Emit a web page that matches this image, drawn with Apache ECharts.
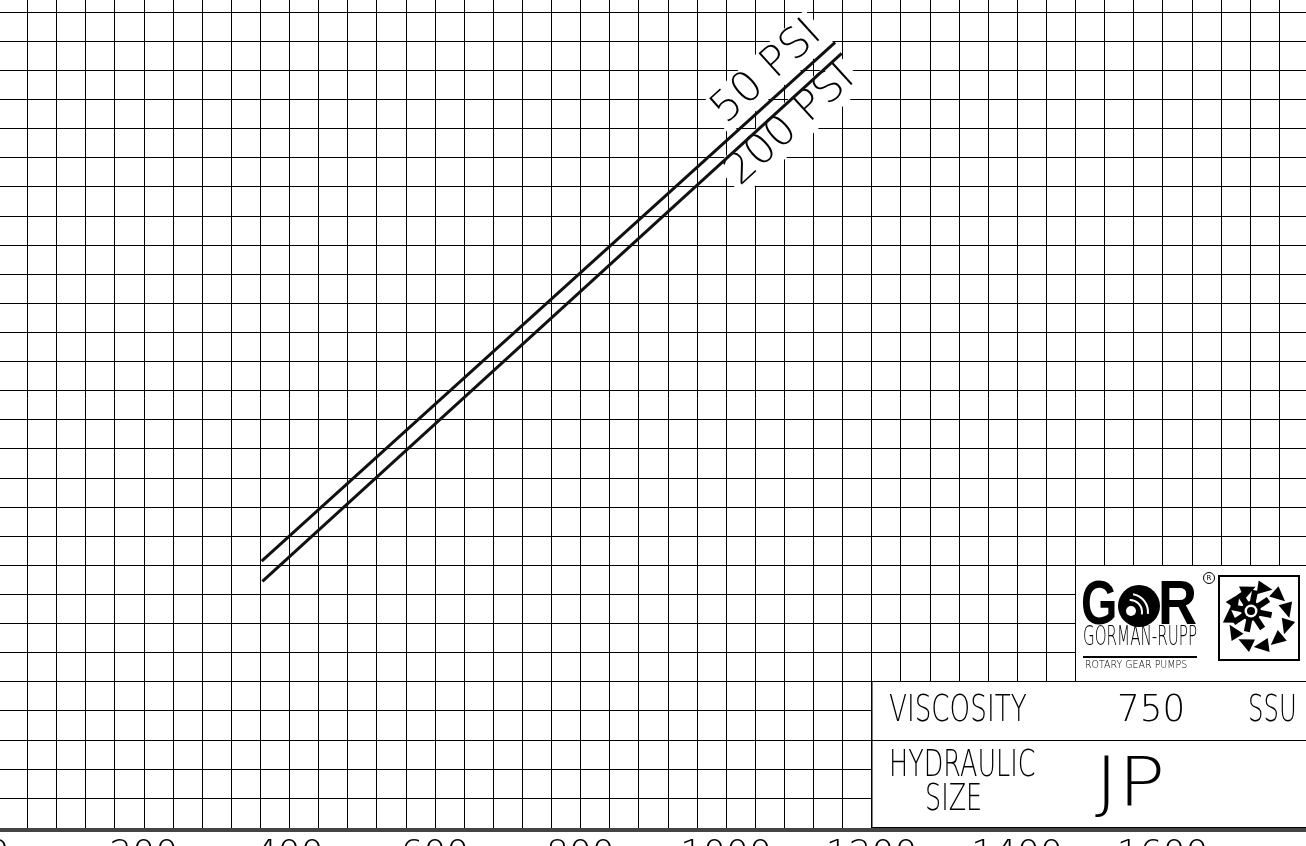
<!DOCTYPE html>
<html>
<head>
<meta charset="utf-8">
<title>JP 750 SSU</title>
<script src="https://cdn.jsdelivr.net/npm/echarts@6/dist/echarts.min.js"></script>
<style>
html, body { margin: 0; padding: 0; background: #fff; }
#main { width: 1306px; height: 846px; }
</style>
</head>
<body>
<div id="main"></div>
<script>
// speed (RPM) along the bottom, flow on the left axis (cropped off)
var rpmLabels = [0, 200, 400, 600, 800, 1000, 1200, 1400, 1600];
var rpm50 = [362, 1150];
var flow50 = [40.7, 129.8];
var rpm200 = [363, 1159];
var flow200 = [37.2, 127.9];
var curveNames = ['50 PSI', '200 PSI'];
var viscosity = '750';
var viscUnit = 'SSU';
var hydSize = 'JP';

var cad = '"DejaVu Sans", "Liberation Sans", sans-serif';
var ink = '#000';

function pairs(xs, ys) {
	return xs.map(function(x, i) { return [x, ys[i]]; });
}

var chart = echarts.init(document.getElementById('main'));
var option = {
	animation: false,
	grid: [{
		// plotting area
		left: -1.8,
		right: -2.2,
		top: -17.08,
		bottom: 48,
		containLabel: false,
		outerBoundsMode: 'none'
	}, {
		// strip under the last grid row, carries the rpm scale
		left: -1.8,
		right: -2.2,
		top: 798,
		bottom: 16,
		containLabel: false,
		outerBoundsMode: 'none'
	}],
	xAxis: [{
		gridIndex: 0,
		type: 'value',
		min: 0,
		max: 1800,
		interval: 40,
		axisLine: { show: false },
		axisTick: { show: false },
		axisLabel: { show: false },
		splitLine: { show: true, lineStyle: { color: ink, width: 1 } }
	}, {
		gridIndex: 1,
		type: 'value',
		min: 0,
		max: 1800,
		interval: 40,
		axisLine: { lineStyle: { color: '#444', width: 4 } },
		axisTick: { show: false },
		splitLine: { show: true, lineStyle: { color: ink, width: 1 } },
		axisLabel: {
			margin: 8,
			showMaxLabel: false,
			hideOverlap: false,
			color: ink,
			fontFamily: cad,
			fontWeight: 200,
			fontSize: 36,
			formatter: function(v) {
				return rpmLabels.indexOf(v) >= 0 ? String(v) : '';
			}
		}
	}],
	yAxis: [{
		gridIndex: 0,
		type: 'value',
		min: 0,
		max: 140,
		interval: 5,
		axisLine: { show: false },
		axisTick: { show: false },
		axisLabel: { show: false },
		splitLine: { show: true, lineStyle: { color: ink, width: 1 } }
	}, {
		gridIndex: 1,
		type: 'value',
		min: 0,
		max: 1,
		show: false,
		splitLine: { show: false }
	}],
	series: [{
		name: curveNames[0],
		type: 'line',
		symbol: 'none',
		silent: true,
		lineStyle: { color: '#111', width: 3 },
		data: pairs(rpm50, flow50)
	}, {
		name: curveNames[1],
		type: 'line',
		symbol: 'none',
		silent: true,
		lineStyle: { color: '#111', width: 3 },
		data: pairs(rpm200, flow200)
	}]
};
chart.setOption(option);

/**
 * curve labels, table and logo
 * **/
function curveLabel(xs, ys, text, dx, dy) {
	var a = chart.convertToPixel({ gridIndex: 0 }, [xs[0], ys[0]]);
	var b = chart.convertToPixel({ gridIndex: 0 }, [xs[1], ys[1]]);
	var ang = Math.atan2(a[1] - b[1], b[0] - a[0]);
	return {
		type: 'text',
		x: b[0] + dx,
		y: b[1] + dy,
		rotation: ang,
		z: 1,
		style: {
			text: text,
			font: '200 42px ' + cad,
			fill: ink,
			align: 'center',
			verticalAlign: 'middle',
			backgroundColor: '#fff',
			padding: [0, 4]
		}
	};
}

function cadText(x, y, text, size, sx) {
	return {
		type: 'text',
		x: x,
		y: y,
		scaleX: sx,
		z: 12,
		style: {
			text: text,
			font: '200 ' + size + 'px ' + cad,
			fill: ink,
			align: 'left',
			verticalAlign: 'middle'
		}
	};
}

var g = [];
g.push(curveLabel(rpm50, flow50, curveNames[0], -68, 30));
g.push(curveLabel(rpm200, flow200, curveNames[1], -51, 72));

// table at lower right
g.push({ type: 'rect', z: 10, shape: { x: 872, y: 681.5, width: 440, height: 146 },
	style: { fill: '#fff', stroke: ink, lineWidth: 1 } });
g.push({ type: 'line', z: 11, shape: { x1: 872, y1: 740.5, x2: 1310, y2: 740.5 },
	style: { stroke: ink, lineWidth: 1 } });
g.push(cadText(889, 711, 'VISCOSITY', 38, 0.69));
g.push(cadText(1117, 711, viscosity, 38, 0.94));
g.push(cadText(1248, 711, viscUnit, 38, 0.64));
g.push(cadText(889, 766, 'HYDRAULIC', 38, 0.67));
g.push(cadText(925, 800, 'SIZE', 38, 0.67));
g.push(cadText(1095, 787, hydSize, 68, 1.15));

// logo box
g.push({ type: 'rect', z: 10, shape: { x: 1075.5, y: 565.5, width: 240, height: 116 },
	style: { fill: '#fff', stroke: ink, lineWidth: 1 } });
g.push({ type: 'text', z: 12, x: 1081, y: 607, scaleX: 0.78, scaleY: 1.05,
	style: { text: 'G', font: 'bold 60px "Liberation Sans", sans-serif', fill: ink, verticalAlign: 'middle' } });
g.push({ type: 'circle', z: 12, shape: { cx: 1139, cy: 606, r: 21 }, style: { fill: ink } });
g.push({ type: 'arc', z: 13, shape: { cx: 1130, cy: 612, r: 12, startAngle: -1.6, endAngle: 0.2 },
	style: { stroke: '#fff', lineWidth: 2, fill: null } });
g.push({ type: 'arc', z: 13, shape: { cx: 1130, cy: 612, r: 18, startAngle: -1.4, endAngle: 0.1 },
	style: { stroke: '#fff', lineWidth: 2, fill: null } });
g.push({ type: 'circle', z: 13, shape: { cx: 1131, cy: 611, r: 5 }, style: { fill: '#fff' } });
g.push({ type: 'text', z: 12, x: 1158, y: 607, scaleX: 0.9, scaleY: 1.05,
	style: { text: 'R', font: 'bold 60px "Liberation Sans", sans-serif', fill: ink, verticalAlign: 'middle' } });
g.push({ type: 'circle', z: 12, shape: { cx: 1209, cy: 578, r: 5.5 }, style: { fill: '#fff', stroke: ink, lineWidth: 1 } });
g.push({ type: 'text', z: 13, x: 1209, y: 578.5,
	style: { text: 'R', font: '7px ' + cad, fill: ink, align: 'center', verticalAlign: 'middle' } });
g.push(cadText(1083, 638, 'GORMAN-RUPP', 27, 0.56));
g.push({ type: 'rect', z: 12, shape: { x: 1083, y: 656, width: 114, height: 2 }, style: { fill: ink } });
g.push(cadText(1085, 665, 'ROTARY GEAR PUMPS', 11, 0.86));

// gear pump emblem
g.push({ type: 'rect', z: 12, shape: { x: 1219, y: 576, width: 80, height: 84 },
	style: { fill: '#fff', stroke: ink, lineWidth: 2 } });
var gcx = 1259, gcy = 617;
for (var i = 0; i < 11; i++) {
	var t = i * Math.PI * 2 / 11 + 0.3;
	var r0 = 29;
	var px = gcx + Math.cos(t) * r0, py = gcy + Math.sin(t) * r0;
	var tip = t + Math.PI / 2;
	g.push({ type: 'polygon', z: 13, shape: { points: [
		[px + Math.cos(tip) * 9, py + Math.sin(tip) * 9],
		[px - Math.cos(tip) * 6 + Math.cos(t) * 7, py - Math.sin(tip) * 6 + Math.sin(t) * 7],
		[px - Math.cos(tip) * 6 - Math.cos(t) * 7, py - Math.sin(tip) * 6 - Math.sin(t) * 7]
	] }, style: { fill: ink } });
}
for (var k = 0; k < 8; k++) {
	var s = k * Math.PI / 4 + 0.2;
	g.push({ type: 'line', z: 13, shape: { x1: 1251, y1: 611, x2: 1251 + Math.cos(s) * 21, y2: 611 + Math.sin(s) * 21 },
		style: { stroke: ink, lineWidth: 6 } });
}
g.push({ type: 'circle', z: 14, shape: { cx: 1251, cy: 611, r: 10 }, style: { fill: ink } });
g.push({ type: 'circle', z: 14, shape: { cx: 1251, cy: 611, r: 6.5 }, style: { fill: '#fff' } });
g.push({ type: 'circle', z: 14, shape: { cx: 1251, cy: 611, r: 4 }, style: { fill: ink } });

chart.setOption({ graphic: g });

window.onresize = function() {
	chart.resize();
};
</script>
</body>
</html>
